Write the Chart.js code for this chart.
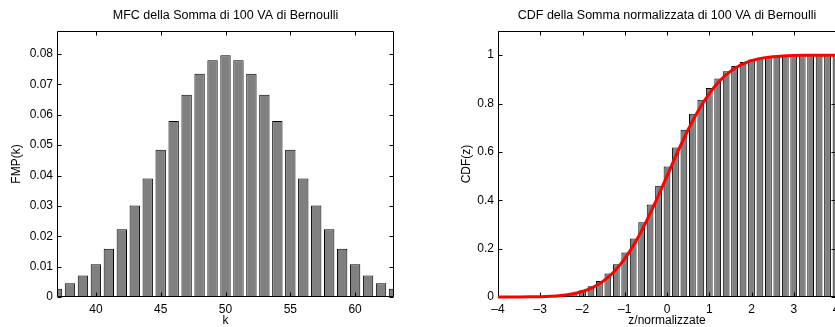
<!DOCTYPE html>
<html>
<head>
<meta charset="utf-8">
<script src="https://cdn.jsdelivr.net/npm/chart.js@4.4.0/dist/chart.umd.min.js"></script>
<style>
  html, body { margin: 0; padding: 0; background: #fff; overflow: hidden; }
  body { width: 835px; height: 327px; position: relative; }
  canvas { position: absolute; top: 0; }
  #pmf { left: 0; }
  #cdf { left: 417px; }
</style>
</head>
<body>
<canvas id="pmf" width="417" height="327"></canvas>
<canvas id="cdf" width="430" height="327"></canvas>
<script>
// Left plot: PMF of the sum of 100 Bernoulli variables
const kValues = [37, 38, 39, 40, 41, 42, 43, 44, 45, 46, 47, 48, 49, 50,
                 51, 52, 53, 54, 55, 56, 57, 58, 59, 60, 61, 62, 63];
const pmfValues = [0.0027, 0.0045, 0.0071, 0.0108, 0.0159, 0.0223, 0.0301, 0.0390, 0.0485,
                   0.0580, 0.0666, 0.0735, 0.0780, 0.0796, 0.0780, 0.0735, 0.0666, 0.0580,
                   0.0485, 0.0390, 0.0301, 0.0223, 0.0159, 0.0108, 0.0071, 0.0045, 0.0027];

// Right plot: CDF of the normalized sum (bars)
const zValues = [-4, -3.8, -3.6, -3.4, -3.2, -3, -2.8, -2.6, -2.4, -2.2, -2, -1.8, -1.6, -1.4,
                 -1.2, -1, -0.8, -0.6, -0.4, -0.2, 0, 0.2, 0.4, 0.6, 0.8, 1, 1.2, 1.4, 1.6,
                 1.8, 2, 2.2, 2.4, 2.6, 2.8, 3, 3.2, 3.4, 3.6, 3.8, 4];
const cdfValues = [0.00004, 0.00009, 0.0002, 0.0004, 0.0009, 0.0018, 0.0033, 0.006, 0.0105,
                   0.0176, 0.0284, 0.0443, 0.0666, 0.0967, 0.1356, 0.1841, 0.2421, 0.3086,
                   0.3822, 0.4602, 0.5398, 0.6178, 0.6914, 0.7579, 0.8159, 0.8644, 0.9033,
                   0.9334, 0.9557, 0.9716, 0.9824, 0.9895, 0.994, 0.9967, 0.9982, 0.9991,
                   0.9996, 0.9998, 0.9999, 1, 1];

// Right plot: red curve (normal CDF)
const curveZ = [-4, -3.75, -3.5, -3.25, -3, -2.75, -2.5, -2.25, -2, -1.75, -1.5, -1.25, -1,
                -0.75, -0.5, -0.25, 0, 0.25, 0.5, 0.75, 1, 1.25, 1.5, 1.75, 2, 2.25, 2.5,
                2.75, 3, 3.25, 3.5, 3.75, 4];
const curveCdf = [0.00003, 0.00009, 0.00023, 0.00058, 0.00135, 0.00298, 0.00621, 0.01222,
                  0.02275, 0.04006, 0.06681, 0.10565, 0.15866, 0.22663, 0.30854, 0.40129,
                  0.5, 0.59871, 0.69146, 0.77337, 0.84134, 0.89435, 0.93319, 0.95994,
                  0.97725, 0.98778, 0.99379, 0.99702, 0.99865, 0.99942, 0.99977, 0.99991,
                  0.99997];

const pmfTicksX = 5;
const pmfTicksY = 0.01;
const cdfTicksX = 1;
const cdfTicksY = 0.2;

Chart.defaults.font.family = '"Liberation Sans", Arial, Helvetica, sans-serif';
Chart.defaults.font.size = 12;
Chart.defaults.color = '#000';

// tick label format, MATLAB style dash for negatives
function fmt(v) {
  const s = String(Math.round(v * 1e6) / 1e6);
  return s.replace('-', '\u2013');
}

// box around the axes with inward ticks on all four sides
function drawBox(chart) {
  const { ctx, chartArea: a, scales } = chart;
  const L = Math.round(a.left) + 0.5, R = Math.round(a.right) - 0.5;
  const T = Math.round(a.top) + 0.5, B = Math.round(a.bottom) - 0.5;
  ctx.save();
  ctx.strokeStyle = '#000';
  ctx.lineWidth = 1;
  ctx.beginPath();
  ctx.rect(L, T, R - L, B - T);
  scales.x.ticks.forEach(t => {
    const px = Math.round(scales.x.getPixelForValue(t.value)) + 0.5;
    ctx.moveTo(px, B); ctx.lineTo(px, B - 4);
    ctx.moveTo(px, T); ctx.lineTo(px, T + 4);
  });
  scales.y.ticks.forEach(t => {
    const py = Math.round(scales.y.getPixelForValue(t.value)) + 0.5;
    ctx.moveTo(L, py); ctx.lineTo(L + 4, py);
    ctx.moveTo(R, py); ctx.lineTo(R - 4, py);
  });
  ctx.stroke();
  ctx.restore();
  chart.$boxDone = true;
}

const matlabBox = {
  id: 'matlabBox',
  beforeDraw(chart) { chart.$boxDone = false; },
  beforeDatasetDraw(chart, args) {
    if (args.meta.type === 'line' && !chart.$boxDone) drawBox(chart);
  },
  afterDatasetsDraw(chart) {
    if (!chart.$boxDone) drawBox(chart);
  },
  afterDraw(chart, args, opts) {
    const { ctx, chartArea: a } = chart;
    ctx.save();
    ctx.fillStyle = '#000';
    ctx.font = '12.5px "Liberation Sans", Arial, sans-serif';
    ctx.textAlign = 'center';
    ctx.textBaseline = 'middle';
    ctx.fillText(opts.text, (a.left + a.right) / 2, 16);
    ctx.restore();
  }
};

function xAxis(min, max, step, title) {
  return {
    type: 'linear', min: min, max: max, offset: false,
    grid: { display: false, drawTicks: false, offset: false }, border: { display: false },
    ticks: { stepSize: step, includeBounds: false, padding: 5, maxRotation: 0, callback: fmt },
    title: { display: true, text: title, padding: 0, font: { lineHeight: 1 } },
    afterFit(scale) { scale.height = 30; }
  };
}

function yAxis(min, max, step, title, width, titlePad) {
  return {
    type: 'linear', min: min, max: max,
    grid: { display: false, drawTicks: false }, border: { display: false },
    ticks: { stepSize: step, includeBounds: false, padding: 4, callback: fmt },
    title: { display: true, text: title, padding: { top: titlePad, bottom: 0 }, font: { lineHeight: 1 } },
    afterFit(scale) { scale.width = width; }
  };
}

new Chart(document.getElementById('pmf'), {
  type: 'bar',
  data: {
    datasets: [{
      data: kValues.map((k, i) => ({ x: k, y: pmfValues[i] })),
      backgroundColor: '#808080',
      borderColor: '#000',
      borderWidth: 1,
      barPercentage: 1,
      categoryPercentage: 0.8
    }]
  },
  options: {
    responsive: false,
    animation: false,
    layout: { padding: { top: 31, right: 23, left: 0, bottom: 0 } },
    plugins: {
      legend: { display: false },
      tooltip: { enabled: false },
      matlabBox: { text: 'MFC della Somma di 100 VA di Bernoulli' }
    },
    scales: {
      x: xAxis(37, 63, pmfTicksX, 'k'),
      y: yAxis(0, 0.0876, pmfTicksY, 'FMP(k)', 57, 11)
    }
  },
  plugins: [matlabBox]
});

new Chart(document.getElementById('cdf'), {
  type: 'bar',
  data: {
    datasets: [{
      type: 'line',
      order: 0,
      data: curveZ.map((z, i) => ({ x: z, y: curveCdf[i] })),
      borderColor: '#ff0000',
      borderWidth: 3,
      pointRadius: 0,
      cubicInterpolationMode: 'monotone',
      clip: { left: 0, right: 0, top: 0, bottom: 3 }
    }, {
      type: 'bar',
      order: 1,
      data: zValues.map((z, i) => ({ x: z, y: cdfValues[i] })),
      backgroundColor: '#808080',
      borderColor: '#000',
      borderWidth: 1,
      barPercentage: 1,
      categoryPercentage: 0.8
    }]
  },
  options: {
    responsive: false,
    animation: false,
    layout: { padding: { top: 31, right: 11, left: 0, bottom: 0 } },
    plugins: {
      legend: { display: false },
      tooltip: { enabled: false },
      matlabBox: { text: 'CDF della Somma normalizzata di 100 VA di Bernoulli' }
    },
    scales: {
      x: xAxis(-4, 4, cdfTicksX, 'z/normalizzate'),
      y: yAxis(0, 1.1, cdfTicksY, 'CDF(z)', 81, 44)
    }
  },
  plugins: [matlabBox]
});
</script>
</body>
</html>
